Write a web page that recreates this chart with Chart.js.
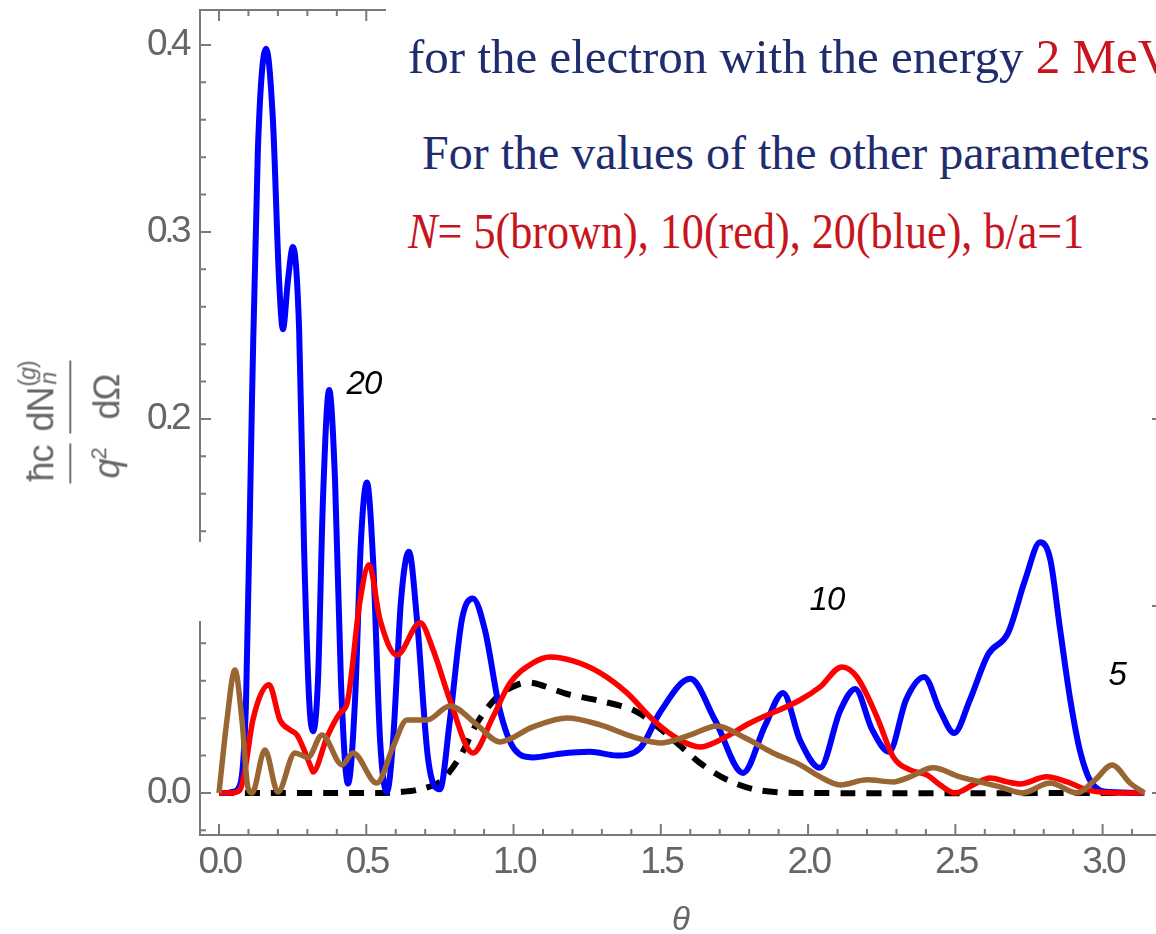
<!DOCTYPE html>
<html>
<head>
<meta charset="utf-8">
<script src="https://cdn.jsdelivr.net/npm/chart.js@4.4.0/dist/chart.umd.min.js"></script>
<style>
    body { margin: 0; width: 1156px; height: 934px; overflow: hidden; background: #fff; position: relative; }
    #plot { position: absolute; left: 0; top: 0; }
    .note { position: absolute; left: 386px; top: 0; width: 800px; height: 290px; background: #fff; }
    .note div { position: absolute; white-space: nowrap; font-family: "Liberation Serif", serif; line-height: 1; }
    .navy { color: #1f2c6e; }
    .red { color: #c8141c; }
    #gap { position: absolute; left: 190px; top: 542px; width: 24px; height: 79px; background: #fff; }
    #ytitle { position: absolute; left: 74px; top: 422px; transform: translate(-50%, -50%) rotate(-90deg);
              color: #666; font: 36px "Liberation Sans", sans-serif; white-space: nowrap; letter-spacing: -1px; }
    .frac { display: inline-flex; flex-direction: column; align-items: center; vertical-align: middle; margin: 0 5px; }
    .num { border-bottom: 2px solid #707070; padding: 0 2px 7px; line-height: 1.2; }
    .den { padding-top: 14px; line-height: 1.2; }
    .ss { display: inline-block; position: relative; width: 24px; height: 23px; font-size: 23px; line-height: 1; margin-left: 1px; }
    .ss span { position: absolute; left: 0; letter-spacing: -1px; }
    .ss .sup { top: -14px; }
    .ss .sub { top: 7px; left: 2px; }
    #xtitle { position: absolute; left: 681px; top: 919px; transform: translate(-50%, -50%);
              color: #666; font: italic 33px "Liberation Sans", sans-serif; }
</style>
</head>
<body>
<canvas id="plot" width="1180" height="934"></canvas>
<div id="gap"></div>
<div class="note">
    <div class="navy" style="left:22px; top:32px; font-size:49px;">for the electron with the energy <span class="red">2 MeV</span></div>
    <div class="navy" style="left:36px; top:129px; font-size:48px;">For the values of the other parameters</div>
    <div class="red" style="left:22px; top:206px; font-size:50px; transform-origin:left; transform:scaleX(0.883);"><i>N</i>= 5(brown), 10(red), 20(blue), b/a=1</div>
</div>
<div id="ytitle"><span class="frac"><span class="num">ħc</span><span class="den"><i>q</i><sup style="font-size:22px">2</sup></span></span><span class="frac"><span class="num">dN<span class="ss"><span class="sup">(<i>g</i>)</span><span class="sub"><i>n</i></span></span></span><span class="den">dΩ</span></span></div>
<div id="xtitle">θ</div>
<script>
// N = 20 (blue)
var blueTheta = [0, 0.03, 0.044, 0.071, 0.092, 0.112, 0.132, 0.16, 0.183, 0.204, 0.217, 0.234, 0.251, 0.272,
    0.289, 0.306, 0.319, 0.336, 0.353, 0.374, 0.394, 0.414, 0.438, 0.462, 0.482, 0.502, 0.523, 0.547, 0.57,
    0.591, 0.618, 0.645, 0.672, 0.71, 0.75, 0.784, 0.825, 0.862, 0.903, 0.954, 1.005, 1.066, 1.158, 1.26,
    1.35, 1.43, 1.497, 1.6, 1.684, 1.779, 1.854, 1.915, 1.973, 2.04, 2.109, 2.16, 2.217, 2.275, 2.333, 2.394,
    2.448, 2.496, 2.55, 2.611, 2.679, 2.737, 2.788, 2.822, 2.856, 2.89, 2.924, 2.964, 3.025, 3.1416];
var blueVal = [0, 0, 0.0005, 0.004, 0.05, 0.21, 0.344, 0.398, 0.36, 0.274, 0.248, 0.274, 0.292, 0.248,
    0.13, 0.05, 0.033, 0.06, 0.157, 0.2155, 0.167, 0.06, 0.005, 0.05, 0.135, 0.166, 0.125, 0.028, 0.0005,
    0.028, 0.103, 0.129, 0.093, 0.018, 0.002, 0.039, 0.093, 0.104, 0.087, 0.044, 0.023, 0.019, 0.021, 0.022,
    0.02, 0.024, 0.043, 0.061, 0.039, 0.0107, 0.036, 0.0535, 0.028, 0.0134, 0.044, 0.0556, 0.034, 0.022, 0.05, 0.062,
    0.044, 0.032, 0.05, 0.074, 0.0856, 0.114, 0.134, 0.125, 0.087, 0.05, 0.022, 0.005, 0.0005, 0];

// N = 10 (red)
var redTheta = [0, 0.04, 0.071, 0.088, 0.115, 0.17, 0.207, 0.241, 0.265, 0.316, 0.319, 0.367, 0.411, 0.435,
    0.479, 0.509, 0.547, 0.604, 0.683, 0.727, 0.784, 0.862, 0.93, 0.988, 1.066, 1.124, 1.202, 1.294, 1.385,
    1.474, 1.565, 1.633, 1.701, 1.803, 1.973, 2.041, 2.115, 2.166, 2.234, 2.289, 2.346, 2.404, 2.448, 2.499,
    2.56, 2.618, 2.676, 2.72, 2.81, 2.879, 2.947, 3.049, 3.1416];
var redVal = [0, 0, 0.0016, 0.012, 0.039, 0.0578, 0.039, 0.0337, 0.031, 0.0123, 0.0112, 0.03, 0.0428, 0.048,
    0.103, 0.122, 0.0925, 0.0738, 0.091, 0.0765, 0.0497, 0.0214, 0.0406, 0.0588, 0.0695, 0.0727, 0.0706, 0.0642, 0.0535,
    0.039, 0.0283, 0.0246, 0.0283, 0.0374, 0.0497, 0.0567, 0.0674, 0.062, 0.0406, 0.0193, 0.0123, 0.0096, 0.0043, 0,
    0.0043, 0.008, 0.0059, 0.0048, 0.0086, 0.0059, 0.0016, 0, 0];

// N = 5 (brown)
var brownTheta = [0, 0.027, 0.054, 0.078, 0.098, 0.112, 0.156, 0.2, 0.258, 0.302, 0.35, 0.418, 0.455, 0.536,
    0.591, 0.638, 0.706, 0.784, 0.876, 0.954, 1.066, 1.182, 1.294, 1.406, 1.497, 1.6, 1.691, 1.779, 1.881,
    1.973, 2.041, 2.109, 2.2, 2.289, 2.346, 2.424, 2.516, 2.584, 2.652, 2.727, 2.822, 2.913, 2.975, 3.032,
    3.093, 3.1416];
var brownVal = [0, 0.039, 0.0658, 0.039, 0.003, 0, 0.023, 0.0005, 0.0214, 0.019, 0.031, 0.015, 0.0214, 0.0053,
    0.0246, 0.039, 0.039, 0.0465, 0.0364, 0.0273, 0.0353, 0.0401, 0.0364, 0.03, 0.0267, 0.031, 0.0358, 0.03, 0.0214,
    0.015, 0.0086, 0.0043, 0.007, 0.0059, 0.0086, 0.0134, 0.0086, 0.0059, 0.0032, 0, 0.0053, 0, 0.007, 0.015,
    0.0053, 0];

// envelope (black dashed)
var envTheta = [0, 0.55, 0.615, 0.672, 0.75, 0.818, 0.876, 0.944, 1.012, 1.066, 1.182, 1.294, 1.406, 1.474,
    1.555, 1.633, 1.725, 1.827, 1.973, 3.1416];
var envVal = [0, 0, 0.0005, 0.0016, 0.0059, 0.0193, 0.0374, 0.0513, 0.0578, 0.0588, 0.0529, 0.0492, 0.0444, 0.0374,
    0.0267, 0.016, 0.007, 0.0016, 0, 0];

var xTicks = [0, 0.5, 1.0, 1.5, 2.0, 2.5, 3.0];
var yTicks = [0, 0.1, 0.2, 0.3, 0.4];
var yHiddenTick = 0.1; // its label sits under a white gap in the frame

var curveLabels = ['20', '10', '5'];
var curveLabelX = [0.492, 2.064, 3.049];
var curveLabelY = [0.218, 0.103, 0.0626];

function toPoints(xs, ys) {
    return xs.map(function (t, i) { return {x: t, y: ys[i]}; });
}

// Mathematica style frame with inward ticks
var framePlugin = {
    id: 'frame',
    beforeDraw: function (chart) {
        chart.ctx.letterSpacing = '-3.5px';
    },
    beforeDatasetsDraw: function (chart) {
        var ctx = chart.ctx;
        var a = chart.chartArea;
        var x = chart.scales.x, y = chart.scales.y;
        ctx.save();
        ctx.strokeStyle = '#7a7a7a';
        ctx.lineWidth = 2;
        ctx.strokeRect(a.left, a.top, a.right - a.left, a.bottom - a.top);
        ctx.beginPath();
        var i, p, len;
        for (i = 0; i <= 31; i++) {
            p = x.getPixelForValue(i / 10);
            len = i % 5 === 0 ? 11 : 6;
            ctx.moveTo(p, a.bottom); ctx.lineTo(p, a.bottom - len);
            ctx.moveTo(p, a.top); ctx.lineTo(p, a.top + len);
        }
        for (i = -1; i <= 20; i++) {
            p = y.getPixelForValue(i * 0.02);
            len = i % 5 === 0 ? 11 : 6;
            ctx.moveTo(a.left, p); ctx.lineTo(a.left + len, p);
            ctx.moveTo(a.right, p); ctx.lineTo(a.right - len, p);
        }
        ctx.stroke();
        ctx.restore();
    },
    afterDatasetsDraw: function (chart) {
        var ctx = chart.ctx;
        ctx.save();
        ctx.letterSpacing = '-1px';
        ctx.font = 'italic 33px "Liberation Sans", sans-serif';
        ctx.fillStyle = '#000';
        ctx.textAlign = 'center';
        ctx.textBaseline = 'middle';
        curveLabels.forEach(function (txt, i) {
            ctx.fillText(txt, chart.scales.x.getPixelForValue(curveLabelX[i]),
                chart.scales.y.getPixelForValue(curveLabelY[i]));
        });
        ctx.restore();
    },
};

var tickFont = {family: '"Liberation Sans", sans-serif', size: 37};

new Chart(document.getElementById('plot').getContext('2d'), {
    type: 'line',
    data: {
        datasets: [{
            data: toPoints(brownTheta, brownVal),
            borderColor: '#996633',
            order: 1,
        }, {
            data: toPoints(redTheta, redVal),
            borderColor: '#ff0000',
            order: 2,
        }, {
            data: toPoints(blueTheta, blueVal),
            borderColor: '#0000ff',
            borderWidth: 6,
            order: 3,
        }, {
            data: toPoints(envTheta, envVal),
            borderColor: '#000000',
            borderDash: [15, 11],
            borderWidth: 6,
            cubicInterpolationMode: 'default',
            tension: 0.3,
            order: 4,
        }],
    },
    options: {
        responsive: false,
        animation: false,
        events: [],
        layout: {padding: {left: 0, top: 10, right: 17, bottom: 0}},
        elements: {
            point: {radius: 0},
            line: {borderWidth: 5.5, fill: false, cubicInterpolationMode: 'monotone', borderCapStyle: 'butt'},
        },
        plugins: {legend: {display: false}, tooltip: {enabled: false}},
        scales: {
            x: {
                type: 'linear',
                min: -0.0645,
                max: 3.205,
                grid: {display: false, drawTicks: false},
                border: {display: false},
                afterBuildTicks: function (scale) {
                    scale.ticks = xTicks.map(function (v) { return {value: v}; });
                },
                afterFit: function (scale) {
                    scale.height = 99;
                    scale.paddingLeft = 0;
                    scale.paddingRight = 0;
                },
                ticks: {
                    color: '#666', font: tickFont, padding: 6, maxRotation: 0, autoSkip: false,
                    callback: function (v) { return v.toFixed(1); },
                },
            },
            y: {
                type: 'linear',
                min: -0.0225,
                max: 0.4187,
                grid: {display: false, drawTicks: false},
                border: {display: false},
                afterBuildTicks: function (scale) {
                    scale.ticks = yTicks.map(function (v) { return {value: v}; });
                },
                afterFit: function (scale) {
                    scale.width = 200;
                    scale.paddingTop = 0;
                    scale.paddingBottom = 0;
                },
                ticks: {
                    color: '#666', font: tickFont, padding: 12, autoSkip: false,
                    callback: function (v) { return v === yHiddenTick ? '' : v.toFixed(1); },
                },
            },
        },
    },
    plugins: [framePlugin],
});
</script>
</body>
</html>
